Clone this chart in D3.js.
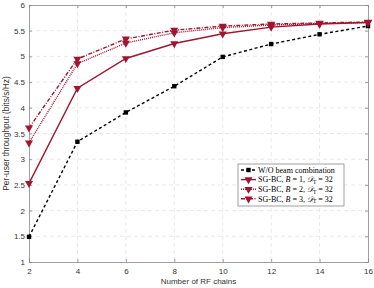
<!DOCTYPE html>
<html>
<head>
<meta charset="utf-8">
<script src="https://cdn.jsdelivr.net/npm/d3@7"></script>
<style>
  body { margin: 0; background: #fff; }
  svg text { font-family: "Liberation Sans", Arial, sans-serif; }
</style>
</head>
<body>
<svg id="chart" width="374" height="288"></svg>
<script>
// data
const rfChains = [2, 4, 6, 8, 10, 12, 14, 16];
const woBeam = [1.49, 3.34, 3.91, 4.42, 4.99, 5.24, 5.43, 5.59];
const sgB1 = [2.53, 4.38, 4.96, 5.25, 5.44, 5.57, 5.63, 5.66];
const sgB2 = [3.32, 4.86, 5.26, 5.46, 5.56, 5.61, 5.64, 5.66];
const sgB3 = [3.61, 4.95, 5.34, 5.51, 5.59, 5.63, 5.65, 5.67];
const xTicks = [2, 4, 6, 8, 10, 12, 14, 16];
const yTicks = [1, 1.5, 2, 2.5, 3, 3.5, 4, 4.5, 5, 5.5, 6];

const svg = d3.select("#chart");
const margin = {top: 5, right: 6, bottom: 26, left: 29},
  width = 374 - margin.left - margin.right,
  height = 288 - margin.top - margin.bottom;

const g = svg.append("g").attr("transform", `translate(${margin.left},${margin.top})`);

const x = d3.scaleLinear().domain([2, 16]).range([0, width]);
const y = d3.scaleLinear().domain([1, 6]).range([height, 0]);

// grid
g.append("g").selectAll("line").data(xTicks.slice(1, -1)).enter().append("line")
  .attr("x1", d => x(d)).attr("x2", d => x(d)).attr("y1", 0).attr("y2", height)
  .attr("stroke", "#e3e3e3").attr("stroke-dasharray", "4,3").attr("stroke-width", 0.8);
g.append("g").selectAll("line").data(yTicks.slice(1, -1)).enter().append("line")
  .attr("y1", d => y(d)).attr("y2", d => y(d)).attr("x1", 0).attr("x2", width)
  .attr("stroke", "#e3e3e3").attr("stroke-dasharray", "4,3").attr("stroke-width", 0.8);

// axes
g.append("g").attr("transform", `translate(0,${height})`)
  .call(d3.axisBottom(x).tickValues(xTicks).tickSize(-3).tickPadding(6));
g.append("g")
  .call(d3.axisLeft(y).tickValues(yTicks).tickSize(-3).tickPadding(4).tickFormat(d3.format("")));
g.append("g").attr("transform", `translate(${width},0)`)
  .call(d3.axisRight(y).tickValues(yTicks).tickSize(-3).tickFormat(""));
g.append("g")
  .call(d3.axisTop(x).tickValues(xTicks).tickSize(-3).tickFormat(""));
g.selectAll(".domain, .tick line").attr("stroke", "#888").attr("stroke-width", 0.8);
g.selectAll(".tick text").attr("fill", "#333").style("font-size", "8px");

// labels
svg.append("text").attr("x", margin.left + width / 2).attr("y", 284)
  .attr("text-anchor", "middle").style("font-size", "8px").attr("fill", "#333")
  .text("Number of RF chains");
svg.append("text").attr("transform", `translate(9,${margin.top + height / 2}) rotate(-90)`)
  .attr("text-anchor", "middle").style("font-size", "8.4px").attr("fill", "#333")
  .text("Per-user throughput (bits/s/Hz)");

const red = "#a2142f";
const series = [
  {name: "woBeam", values: woBeam, color: "#000", dash: "3,2.5", marker: "square"},
  {name: "b1", values: sgB1, color: red, dash: null, marker: "tri"},
  {name: "b2", values: sgB2, color: red, dash: "1,1", marker: "tri"},
  {name: "b3", values: sgB3, color: red, dash: "4,1.5,1,1.5", marker: "tri"}
];

const line = d3.line().x((d, i) => x(rfChains[i])).y(d => y(d));
const triDown = d3.symbol().type(d3.symbolTriangle).size(28);

function drawMarker(sel, s, cx, cy) {
  if (s.marker === "square") {
    sel.append("rect").attr("x", cx - 2.2).attr("y", cy - 2.2).attr("width", 4.4).attr("height", 4.4)
      .attr("fill", "#000");
  } else {
    sel.append("path").attr("d", triDown())
      .attr("transform", `translate(${cx},${cy}) rotate(180)`)
      .attr("fill", s.color);
  }
}

series.forEach(s => {
  g.append("path").datum(s.values).attr("d", line)
    .attr("fill", "none").attr("stroke", s.color).attr("stroke-width", 1.4)
    .attr("stroke-dasharray", s.dash);
  s.values.forEach((v, i) => drawMarker(g, s, x(rfChains[i]), y(v)));
});

// legend
const legendLabels = [
  "W/O beam combination",
  "SG-BC, <tspan font-style='italic'>B</tspan> = 1, <tspan font-style='italic'>𝒟</tspan><tspan font-size='5.5px' dy='1.5'>T</tspan><tspan dy='-1.5'> = 32</tspan>",
  "SG-BC, <tspan font-style='italic'>B</tspan> = 2, <tspan font-style='italic'>𝒟</tspan><tspan font-size='5.5px' dy='1.5'>T</tspan><tspan dy='-1.5'> = 32</tspan>",
  "SG-BC, <tspan font-style='italic'>B</tspan> = 3, <tspan font-style='italic'>𝒟</tspan><tspan font-size='5.5px' dy='1.5'>T</tspan><tspan dy='-1.5'> = 32</tspan>"
];
const lg = svg.append("g").attr("transform", "translate(238,164)");
lg.append("rect").attr("width", 106).attr("height", 42)
  .attr("fill", "#fff").attr("stroke", "#888").attr("stroke-width", 0.8);
series.forEach((s, i) => {
  const yy = 6 + i * 9.6;
  lg.append("line").attr("x1", 3).attr("x2", 18).attr("y1", yy).attr("y2", yy)
    .attr("stroke", s.color).attr("stroke-width", 1.4).attr("stroke-dasharray", s.dash);
  drawMarker(lg, s, 10.5, yy);
  lg.append("text").attr("x", 20).attr("y", yy + 2.8)
    .style("font-family", "'Liberation Serif', 'DejaVu Serif', serif").style("font-size", "8px")
    .attr("fill", "#000").html(legendLabels[i]);
});
</script>
</body>
</html>
